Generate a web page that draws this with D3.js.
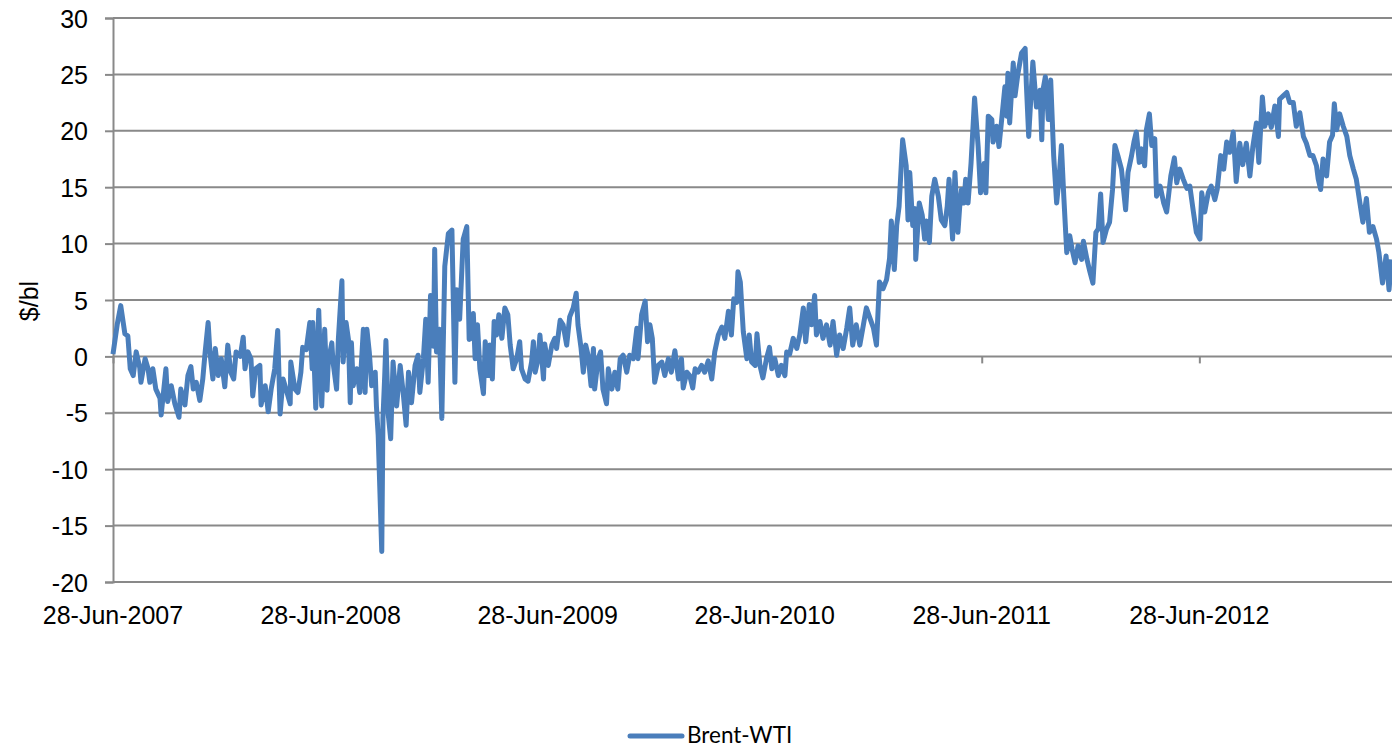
<!DOCTYPE html>
<html>
<head>
<meta charset="utf-8">
<script src="https://cdn.jsdelivr.net/npm/d3@7"></script>
<style>
  body { margin: 0; background: #fff; }
  svg { display: block; }
</style>
</head>
<body>
<script>
// Brent-WTI spread, $/bl
// dayOffsets = days since 28-Jun-2007
const startDate = new Date(2007, 5, 28);

const dayOffsets = [
  0, 7, 13, 20, 25, 29, 34, 39, 45, 47, 54, 59, 62, 67, 72, 79, 81, 89, 92, 98,
  104, 111, 114, 121, 126, 131, 135, 140, 146, 151, 155, 160, 163, 168, 172, 177, 182, 188, 193, 198,
  203, 207, 214, 219, 222, 227, 232, 235, 240, 247, 249, 256, 261, 266, 272, 277, 281, 286, 291, 298,
  299, 306, 311, 316, 319, 325, 331, 335, 336, 341, 346, 351, 356, 360,
  362, 368, 370, 376, 379, 385, 387, 392, 396, 399, 401, 404, 410, 415, 421, 424, 427, 431, 435, 441,
  443, 446, 452, 454, 457, 459, 463, 467, 471, 477, 483, 488, 493, 497, 502, 508, 513, 516, 522, 526,
  530, 534, 539, 541, 544, 549, 553, 558, 564, 570, 575, 578, 583, 589, 595, 599,
  602, 606, 609, 613, 617, 623, 626, 631, 634, 638, 641, 645, 649, 654, 659, 664, 668, 673, 679, 684,
  687, 693, 698, 704, 707, 710, 715, 718, 724, 726, 732, 738, 743, 746, 752, 757, 763, 768, 774, 779,
  782, 787, 791, 795, 799, 804, 808, 810, 816, 820, 824, 830, 833, 839, 844, 849, 853, 858, 864, 869,
  875, 881, 883, 889, 895, 899, 903, 907, 911, 917, 923, 928, 934, 939, 945, 951, 956,
  959, 965, 970, 975, 979, 984, 990, 995, 1001, 1007, 1012, 1018, 1024, 1029, 1035, 1040, 1044, 1049, 1051, 1055,
  1060, 1066, 1070, 1074, 1080, 1083, 1088, 1093, 1099, 1104, 1108, 1113, 1119, 1124, 1130, 1133, 1138, 1144, 1150, 1155,
  1161, 1165, 1171, 1175, 1180, 1183, 1189, 1194, 1200, 1206, 1211, 1217, 1222, 1228, 1234, 1239, 1244, 1250, 1256, 1262,
  1267, 1273, 1279, 1284, 1289, 1295, 1301, 1306,
  1309, 1314, 1318, 1322, 1328, 1334, 1337, 1340, 1345, 1349, 1350, 1356, 1361, 1365, 1368, 1373, 1377, 1382, 1388, 1393,
  1399, 1403, 1406, 1412, 1416, 1421, 1424, 1427, 1431, 1434, 1438, 1443, 1449, 1455, 1459, 1465, 1468, 1472, 1478, 1480,
  1486, 1490, 1494, 1500, 1503, 1505, 1508, 1514, 1517, 1522, 1528, 1534, 1536, 1540, 1545, 1547, 1553, 1559, 1562, 1564,
  1568, 1573, 1577,
  1582, 1587, 1591, 1595, 1599, 1604, 1609, 1613, 1618, 1623, 1629, 1632, 1638, 1642, 1648, 1653, 1657, 1661, 1665, 1671,
  1676, 1681, 1685, 1690, 1696, 1703, 1707, 1713, 1717, 1721, 1726, 1730, 1735, 1738, 1743, 1747, 1752, 1755, 1761, 1767,
  1772, 1779, 1785, 1789, 1794, 1800, 1806, 1811, 1817, 1822, 1828, 1831, 1836, 1842, 1847, 1853, 1857, 1863, 1868, 1873,
  1878, 1884, 1889,
  1895, 1900, 1906, 1912, 1917, 1923, 1927, 1933, 1937, 1943, 1948, 1954, 1960, 1962, 1968, 1974, 1979, 1985, 1990, 1996,
  2002, 2007, 2013, 2018, 2024, 2027, 2031, 2035, 2041, 2046, 2051, 2054, 2058, 2063, 2069, 2075, 2080, 2086, 2091, 2097,
  2102, 2108, 2113, 2119, 2125, 2129, 2135, 2141, 2146, 2150
];

const spread = [
  0.2, 2.8, 4.5, 2.0, 1.8, -1.1, -1.7, 0.4, -1.0, -2.3, -0.2, -1.1, -2.3, -1.1, -2.9, -3.7, -5.2, -1.1, -4.0, -2.6,
  -4.2, -5.4, -2.9, -4.3, -1.7, -0.9, -2.9, -2.3, -3.9, -2.0, 0.4, 3.0, 0.4, -2.0, 0.7, -1.7, -0.2, -2.7, 1.0, -1.4,
  -2.0, 0.4, 0.0, 1.7, -1.1, 0.4, -0.2, -3.5, -1.1, -0.8, -4.3, -2.6, -4.9, -2.9, -1.1, 2.3, -5.1, -2.0, -2.9, -4.2,
  -0.5, -2.9, -3.2, -1.4, 0.8, 0.6, 3.0, -1.1, 3.0, -4.6, 4.1, -4.4, 2.4, -3.0,
  -0.5, 1.2, -0.5, -2.9, 1.5, 6.7, -0.5, 3.0, 1.5, -4.1, 1.2, -2.6, -1.1, -3.2, 2.4, -3.2, 2.4, 0.4, -2.6, -1.4,
  -4.4, -7.0, -17.3, -5.5, -1.7, 1.4, -5.2, -7.3, -0.5, -4.4, -0.8, -3.2, -6.1, -1.4, -4.1, -0.8, 0.1, -3.2, -0.2, 3.3,
  -2.3, 5.4, 0.9, 9.5, 0.4, 2.4, -5.5, 8.0, 10.9, 11.2, -2.3, 5.9, 3.3, 10.4, 11.5, 1.5,
  1.6, 3.8, -0.2, 2.8, -1.1, -3.3, 1.3, -1.7, 1.0, -2.0, 3.1, 1.9, 3.7, 1.6, 4.3, 3.7, 1.0, -1.1, -0.2, 1.3,
  -1.1, -2.0, -2.2, -0.5, 1.3, -1.4, -0.2, 1.9, -2.0, 1.1, -0.8, 1.0, 1.6, 0.7, 3.2, 2.8, 1.0, 3.5, 4.3, 5.6,
  2.8, 0.8, -1.4, 1.0, 0.1, -2.6, 0.7, -2.9, -0.2, 0.4, -2.9, -4.2, -1.1, -2.9, -1.4, -2.9, -0.2, 0.1, -1.4, 0.1,
  -0.2, 2.5, -0.2, 3.7, 4.9, 1.3, 2.8, 1.6, -2.3, -0.8, -0.5, -1.7, -0.2, -1.4, 0.5, -2.0, -0.2,
  -2.8, -1.4, -1.7, -2.8, -1.1, -1.4, -0.8, -1.4, -0.4, -2.0, 0.4, 1.9, 2.6, 1.6, 4.0, 1.9, 5.1, 4.8, 7.5, 6.6,
  2.2, -0.2, 1.9, -0.5, -0.8, 2.0, -0.8, -1.9, -0.2, 0.8, -1.1, -0.2, -1.7, -0.8, -1.7, 0.4, 0.2, 1.6, 0.7, 1.9,
  4.3, 1.3, 4.6, 2.8, 5.4, 1.9, 3.1, 1.6, 2.8, 1.0, 3.1, 0.1, 1.9, 0.7, 2.5, 4.3, 1.0, 2.8, 1.0, 2.8,
  4.3, 3.4, 2.5, 1.0, 6.6, 6.0, 6.8, 8.7,
  12.0, 7.7, 11.6, 13.3, 19.2, 16.9, 12.1, 16.3, 11.6, 13.1, 8.6, 13.6, 12.5, 10.4, 12.0, 10.1, 14.2, 15.7, 14.2, 12.1,
  11.6, 13.3, 15.7, 10.4, 16.3, 11.0, 13.3, 14.8, 13.6, 15.7, 13.6, 17.1, 22.9, 18.6, 14.5, 17.1, 14.5, 21.3, 21.0, 19.0,
  20.4, 18.6, 20.7, 23.9, 21.3, 25.1, 20.7, 26.0, 23.1, 25.1, 26.9, 27.3, 24.2, 19.5, 24.2, 26.1, 22.1, 23.6, 19.2, 23.6,
  24.8, 21.0, 24.5,
  17.8, 13.6, 15.7, 18.7, 14.2, 9.2, 10.7, 9.5, 8.3, 9.8, 8.6, 10.2, 8.6, 7.7, 6.5, 11.0, 11.3, 14.4, 10.1, 11.3,
  11.9, 14.8, 18.7, 17.8, 16.6, 13.0, 16.3, 17.8, 19.0, 19.9, 17.2, 18.4, 16.9, 20.1, 21.5, 18.7, 19.3, 14.2, 15.1, 13.6,
  12.8, 16.0, 17.6, 15.4, 16.6, 15.7, 14.9, 15.1, 12.8, 11.0, 10.4, 14.5, 12.8, 14.5, 15.1, 13.9, 14.8, 17.8, 16.6, 19.0,
  18.1, 19.9, 15.5,
  18.9, 17.0, 18.9, 16.0, 18.6, 20.7, 17.2, 23.0, 20.4, 21.5, 20.3, 22.2, 19.5, 22.8, 23.1, 23.4, 22.5, 22.5, 20.4, 21.6,
  19.5, 18.9, 17.8, 17.8, 16.9, 15.7, 14.8, 17.5, 16.0, 19.0, 19.6, 22.4, 20.1, 21.5, 20.4, 19.5, 17.8, 16.6, 15.7, 13.6,
  11.9, 14.0, 11.0, 11.5, 10.4, 9.2, 6.5, 8.9, 5.9, 8.6
];

const yTicks = [-20, -15, -10, -5, 0, 5, 10, 15, 20, 25, 30];
const xTickDates = ['2007-06-28', '2008-06-28', '2009-06-28', '2010-06-28', '2011-06-28', '2012-06-28'];
const seriesName = 'Brent-WTI';
const yTitle = '$/bl';

// SVG parameters
const svgWidth = 1392;
const svgHeight = 748;
const plotLeft = 113;
const plotRight = 1392;
const plotTop = 18;
const plotBottom = 582;
const gridColor = '#898989';
const lineColor = '#4a7ebb';
const font = '"Liberation Sans", Arial, sans-serif';

const data = dayOffsets.map((d, i) => ({
  date: d3.timeDay.offset(startDate, d),
  value: spread[i]
}));

const parseDate = d3.timeParse('%Y-%m-%d');
const tickDates = xTickDates.map(parseDate);

// Scaling
const xScale = d3.scaleTime()
  .domain([startDate, d3.timeDay.offset(startDate, 2151)])
  .range([plotLeft, plotRight]);

const yScale = d3.scaleLinear()
  .domain([-20, 30])
  .range([plotBottom, plotTop]);

const svg = d3.select('body')
  .append('svg')
  .attr('width', svgWidth)
  .attr('height', svgHeight);

// horizontal gridlines
svg.append('g')
  .selectAll('line')
  .data(yTicks)
  .enter()
  .append('line')
  .attr('x1', plotLeft)
  .attr('x2', plotRight)
  .attr('y1', d => yScale(d))
  .attr('y2', d => yScale(d))
  .attr('stroke', gridColor)
  .attr('stroke-width', 2);

// y axis
const yAxis = d3.axisLeft(yScale)
  .tickValues(yTicks)
  .tickSize(8)
  .tickPadding(17)
  .tickFormat(d => String(d));

const gy = svg.append('g')
  .attr('transform', `translate(${plotLeft}, 0)`)
  .call(yAxis);
gy.select('.domain').attr('stroke', gridColor).attr('stroke-width', 2);
gy.selectAll('.tick line').attr('stroke', gridColor).attr('stroke-width', 2);
gy.selectAll('.tick text')
  .attr('fill', '#000')
  .attr('dy', '0.36em')
  .style('font-family', font)
  .style('font-size', '25px');

// x axis: line sits on zero, labels at the bottom
const xAxis = d3.axisBottom(xScale)
  .tickValues(tickDates)
  .tickSize(7)
  .tickFormat('');

const gx = svg.append('g')
  .attr('transform', `translate(0, ${yScale(0)})`)
  .call(xAxis);
gx.select('.domain').remove();
gx.selectAll('.tick line').attr('stroke', gridColor).attr('stroke-width', 2);

svg.append('g')
  .selectAll('text')
  .data(tickDates)
  .enter()
  .append('text')
  .attr('x', d => xScale(d))
  .attr('y', plotBottom + 42)
  .attr('text-anchor', 'middle')
  .style('font-family', font)
  .style('font-size', '25px')
  .text(d3.timeFormat('%d-%b-%Y'));

// y title
svg.append('text')
  .attr('transform', `translate(38, ${(plotTop + plotBottom) / 2 + 1}) rotate(-90)`)
  .attr('text-anchor', 'middle')
  .style('font-family', font)
  .style('font-size', '25px')
  .text(yTitle);

// series
const line = d3.line()
  .x(d => xScale(d.date))
  .y(d => yScale(d.value));

svg.append('path')
  .datum(data)
  .attr('d', line)
  .attr('fill', 'none')
  .attr('stroke', lineColor)
  .attr('stroke-width', 5)
  .attr('stroke-linejoin', 'round');

// legend
const legend = svg.append('g').attr('transform', 'translate(630, 736)');
legend.append('line')
  .attr('x1', 0)
  .attr('x2', 52)
  .attr('stroke', lineColor)
  .attr('stroke-width', 5)
  .attr('stroke-linecap', 'round');
legend.append('text')
  .attr('x', 57)
  .attr('y', 7)
  .style('font-family', 'Lato, "Open Sans", sans-serif')
  .style('font-size', '22.5px')
  .text(seriesName);
</script>
</body>
</html>
